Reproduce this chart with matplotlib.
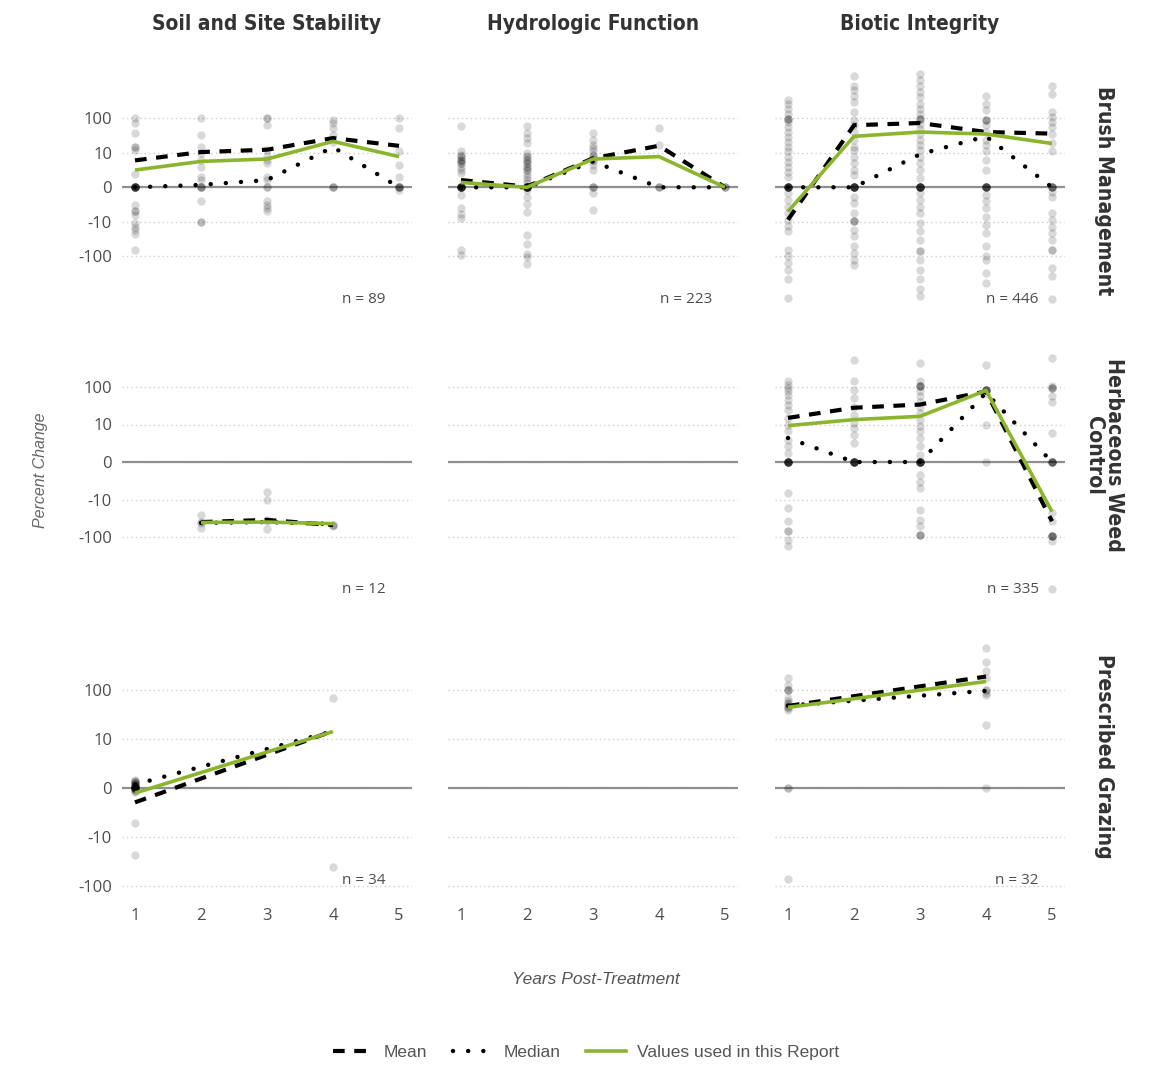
import numpy as np
import matplotlib
matplotlib.use("Agg")
import matplotlib.pyplot as plt
from matplotlib.lines import Line2D
from matplotlib.ticker import NullLocator

# ---------------- data ----------------
years = [1, 2, 3, 4, 5]
col_titles = ["Soil and Site Stability", "Hydrologic Function", "Biotic Integrity"]
row_titles = ["Brush Management", "Herbaceous Weed\nControl", "Prescribed Grazing"]
y_ticks = [-100, -10, 0, 10, 100]
y_tick_labels = ["-100", "-10", "0", "10", "100"]
nan = float("nan")

# Brush Management - Soil and Site Stability (n = 89)
bm_soil_mean = [7.8, 10.5, 12.3, 26.7, 15.9]
bm_soil_median = [0, 0.7, 2.1, 14.6, 0]
bm_soil_used = [5.0, 7.5, 8.2, 21.4, 8.9]
bm_soil_pts = [
    [102, 73, 37, 15, 15, 12, 4] + [0] * 10 + [-5, -7, -7, -8, -11, -14, -17, -22, -67],
    [102, 33, 15, 10, 8, 6, 3, 2] + [0] * 4 + [-4, -10, -10],
    [102, 102, 66, 12, 9, 8, 7, 3, 2] + [0] * 2 + [-4, -5, -6, -7],
    [91, 73, 52, 33, 21] + [0] * 3,
    [102, 52, 11, 6.5, 3, 0.2, -0.8] + [0] * 4,
]
bm_soil_n = 89

# Brush Management - Hydrologic Function (n = 223)
bm_hydro_mean = [2.1, 0.2, 8.4, 16, 0]
bm_hydro_median = [0, 0, 7.5, 0, 0]
bm_hydro_used = [1.4, 0, 8.2, 8.9, 0]
bm_hydro_pts = [
    [59, 11, 9.4, 8.9, 8, 7.5, 7, 6, 5, 4.1, 9, 8, 7] + [0] * 12 + [-2.2, -6.1, -7.6, -9, -67, -93],
    [59, 37, 27, 19, 10, 8.9, 8, 7, 6, 5, 4, 3.1, 2.1, 1.2, 9, 8, 7, 6, 5] + [0] * 14
    + [-0.8, -2.7, -4.7, -7.1, -24, -43, -83, -105, -163],
    [37, 24, 17, 13.7, 11, 9.4, 8.4, 7.5, 6.5, 5, 9, 8] + [0] * 3 + [-1.7, -6.6],
    [52, 17] + [0] * 3,
    [0] * 3,
]
bm_hydro_n = 223

# Brush Management - Biotic Integrity (n = 446)
bm_biotic_mean = [-9.4, 63, 73, 40, 36]
bm_biotic_median = [0, 0, 9.6, 30, 0]
bm_biotic_used = [-7, 30, 40, 35, 18.6]
bm_biotic_pts = [
    [331, 265, 190, 135, 98, 98, 98, 78, 56, 40, 29, 21, 15, 11, 8.8, 7.4, 6, 4.5, 3.1] + [0] * 10
    + [-1.7, -3.7, -5.6, -7.5, -9.4, -13.6, -19, -64, -100, -155, -242, -470, -1590],
    [1740, 891, 646, 457, 295, 151, 87, 63, 40, 23, 15, 12, 8.8, 6.9, 5, 3.6] + [0] * 10
    + [-2.7, -4.6, -7.5, -9.9, -9.9, -9.9, -17, -26, -51, -80, -125, -174],
    [1950, 1260, 891, 575, 417, 263, 190, 135, 98, 98, 98, 70, 50, 36, 23, 17, 12, 8.8, 6.9, 5, 2.6] + [0] * 10
    + [-1.7, -3.7, -5.6, -7.5, -11, -19, -33, -70, -70, -125, -242, -470, -912, -1420],
    [457, 263, 170, 91, 91, 91, 63, 40, 23, 17, 11, 7.9, 5] + [0] * 8
    + [-2.2, -4.1, -6.1, -8.5, -12, -21, -51, -100, -125, -302, -589],
    [891, 513, 151, 110, 78, 56, 36, 19, 11] + [0] * 5
    + [-1.25, -2.7, -7.5, -9.4, -14, -21, -33, -65, -65, -218, -380, -1780],
]
bm_biotic_n = 446

# Herbaceous Weed Control - Soil and Site Stability (n = 12)
hw_soil_mean = [nan, -40, -35, -48, nan]
hw_soil_median = [nan, -42, -40, -45, nan]
hw_soil_used = [nan, -41, -40, -44, nan]
hw_soil_pts = [
    [],
    [-26, -40, -42, -58],
    [-8, -10.5, -36, -38, -60],
    [-47, -47, -50],
    [],
]
hw_soil_n = 12

# Herbaceous Weed Control - Biotic Integrity (n = 335)
hw_biotic_mean = [15, 28, 34, 76, -38]
hw_biotic_median = [6.4, 0, 0, 70, 0]
hw_biotic_used = [9.7, 13.5, 16.5, 81, -21]
hw_biotic_pts = [
    [141, 115, 94, 76, 63, 46, 34, 25, 15, 10, 8.2, 6, 4.2, 2.4] + [0] * 10
    + [-8.3, -17, -38, -71, -71, -118, -178],
    [537, 141, 85, 51, 30, 18, 11, 9.1, 7.3, 5.1] + [0] * 10,
    [437, 141, 105, 105, 105, 105, 76, 56, 41, 30, 20, 13, 9.5, 8.2, 6.4, 4.2, 2] + [0] * 10
    + [-3.4, -5.2, -6.9, -19, -35, -52, -87, -87, -87],
    [398, 85, 85, 85, 85, 85, 85, 69, 10, 0],
    [589, 105, 94, 94, 94, 56, 41, 7.7] + [0] * 6
    + [-23, -38, -96, -96, -96, -96, -96, -131, -2500],
]
hw_biotic_n = 335

# Prescribed Grazing - Soil and Site Stability (n = 34)
pg_soil_mean = [-2.9, nan, nan, 14.8, nan]
pg_soil_median = [0.75, nan, nan, 14.6, nan]
pg_soil_used = [-1.0, nan, nan, 14.4, nan]
pg_soil_pts = [
    [1.7, 1.5, 1.3, 1.2, 1.0, 0.9, 0.8, 0.7, 0.6, 0.5, 0.4, 0.3, 0.2, 0.1] + [0] * 8
    + [-0.2, -0.4, -0.6, -0.7, -7.2, -23],
    [],
    [],
    [69, -41],
    [],
]
pg_soil_n = 34

# Prescribed Grazing - Biotic Integrity (n = 32)
pg_biotic_mean = [48, nan, nan, 192, nan]
pg_biotic_median = [49, nan, nan, 98, nan]
pg_biotic_used = [45, nan, nan, 152, nan]
pg_biotic_pts = [
    [178, 130, 100, 100, 100, 69, 60, 55, 52, 48, 45, 43, 40, 0, 0, -72],
    [],
    [],
    [725, 389, 245, 178, 102, 102, 88, 81, 20, 0],
    [],
]
pg_biotic_n = 32

empty = None
panels = [
    [(bm_soil_mean, bm_soil_median, bm_soil_used, bm_soil_pts, bm_soil_n),
     (bm_hydro_mean, bm_hydro_median, bm_hydro_used, bm_hydro_pts, bm_hydro_n),
     (bm_biotic_mean, bm_biotic_median, bm_biotic_used, bm_biotic_pts, bm_biotic_n)],
    [(hw_soil_mean, hw_soil_median, hw_soil_used, hw_soil_pts, hw_soil_n),
     empty,
     (hw_biotic_mean, hw_biotic_median, hw_biotic_used, hw_biotic_pts, hw_biotic_n)],
    [(pg_soil_mean, pg_soil_median, pg_soil_used, pg_soil_pts, pg_soil_n),
     empty,
     (pg_biotic_mean, pg_biotic_median, pg_biotic_used, pg_biotic_pts, pg_biotic_n)],
]

# ---------------- style / layout ----------------
GREEN = "#8cb52e"
TXT = "#4d4d4d"
TITLE_FONT = ["DejaVu Sans", "Liberation Sans"]
LIGHT_FONT = ["Liberation Sans", "DejaVu Sans"]
BODY_FONT = ["Open Sans", "DejaVu Sans"]

W, H = 1155, 1067
fig = plt.figure(figsize=(W / 100, H / 100), dpi=100)

col_left_px = [121.8, 447.8, 774.8]
col_w_px = 290.4
row_px = [(61, 312), (347, 598), (637, 893)]
row_zero_px = [187.3, 462.0, 788.2]
row_unit_px = [34.5, 37.5, 48.9]


def inv_t(t):
    # position in "tick units" -> data value on the symlog axis
    return np.sign(t) * 10 ** abs(t) if abs(t) > 1 else 10 * t


mean_style = dict(color="black", lw=3.0, linestyle=(0, (2.8, 2.3)), dash_capstyle="butt", zorder=4)
median_style = dict(color="black", lw=3.2, linestyle=(0, (0.01, 3.4)), dash_capstyle="round", zorder=4)
used_style = dict(color=GREEN, lw=2.6, solid_capstyle="butt", zorder=5)

for r in range(3):
    top, bot = row_px[r]
    for c in range(3):
        ax = fig.add_axes([col_left_px[c] / W, 1 - bot / H, col_w_px / W, (bot - top) / H])
        ax.set_yscale("symlog", linthresh=10, linscale=0.9)
        t_top = (row_zero_px[r] - top) / row_unit_px[r]
        t_bot = (row_zero_px[r] - bot) / row_unit_px[r]
        ax.set_ylim(inv_t(t_bot), inv_t(t_top))
        ax.set_xlim(0.8, 5.2)
        ax.set_yticks(y_ticks)
        ax.yaxis.set_minor_locator(NullLocator())
        ax.set_xticks(years)
        for s in ax.spines.values():
            s.set_visible(False)
        ax.tick_params(length=0, labelsize=12, labelcolor=TXT, pad=7)
        if c == 0:
            ax.set_yticklabels(y_tick_labels, fontfamily=BODY_FONT)
        else:
            ax.set_yticklabels([])
        if r == 2:
            ax.set_xticklabels([str(y) for y in years], fontfamily=BODY_FONT)
            ax.tick_params(axis="x", pad=11)
        else:
            ax.set_xticklabels([])
        ax.yaxis.grid(True, linestyle=(0, (1, 2.2)), color="#cfcfcf", lw=1.0)
        ax.xaxis.grid(False)
        ax.set_axisbelow(True)
        ax.axhline(0, color="#8f8f8f", lw=1.6, zorder=2)

        p = panels[r][c]
        if p is None:
            continue
        mean, median, used, pts, n = p
        for yr, vals in zip(years, pts):
            if len(vals):
                ax.scatter([yr] * len(vals), vals, s=36, color="black", alpha=0.15,
                           linewidths=0, zorder=3)
        yrs = np.array(years, dtype=float)
        for vals, st in ((median, median_style), (mean, mean_style), (used, used_style)):
            v = np.array(vals, dtype=float)
            m = ~np.isnan(v)
            ax.plot(yrs[m], v[m], **st)
        ax.text(4.8, {0: 0.048, 1: 0.032, 2: 0.05}[r], f"n = {n}", transform=ax.get_xaxis_transform(),
                ha="right", va="center", fontsize=11, color=TXT, fontfamily=BODY_FONT)

# column titles
for c, title in enumerate(col_titles):
    fig.text((col_left_px[c] + col_w_px / 2) / W, 1 - 24 / H, title, ha="center", va="center",
             fontsize=15, fontweight="bold", fontstretch="condensed", color="#333333",
             fontfamily=TITLE_FONT)

# row titles (right strips)
row_label_y = [191, 455, 756]
for r, title in enumerate(row_titles):
    fig.text(1104 / W, 1 - row_label_y[r] / H, title, ha="center", va="center", rotation=-90,
             fontsize=15.2, fontweight="bold", fontstretch="condensed", color="#333333",
             fontfamily=TITLE_FONT, linespacing=1.0, multialignment="center")

# axis labels
fig.text(40 / W, 1 - 470 / H, "Percent Change", rotation=90, ha="center", va="center",
         fontsize=11.5, fontstyle="italic", color="#666666", fontfamily=LIGHT_FONT)
fig.text(596 / W, 1 - 980 / H, "Years Post-Treatment", ha="center", va="center",
         fontsize=12.5, fontstyle="italic", color="#555555", fontfamily=LIGHT_FONT)

# legend
handles = [
    Line2D([], [], color="black", lw=3.0, linestyle=(0, (2.8, 2.3))),
    Line2D([], [], color="black", lw=3.2, linestyle=(0, (0.01, 3.4)), dash_capstyle="round"),
    Line2D([], [], color=GREEN, lw=2.6),
]
leg = fig.legend(handles, ["Mean", "Median", "Values used in this Report"], loc="center",
                 bbox_to_anchor=(586 / W, 1 - 1052 / H), ncol=3, frameon=False,
                 handlelength=2.3, columnspacing=1.5, handletextpad=0.6,
                 prop={"family": LIGHT_FONT, "size": 12.5})
for t in leg.get_texts():
    t.set_color("#555555")

fig.savefig("out.png", dpi=100)
